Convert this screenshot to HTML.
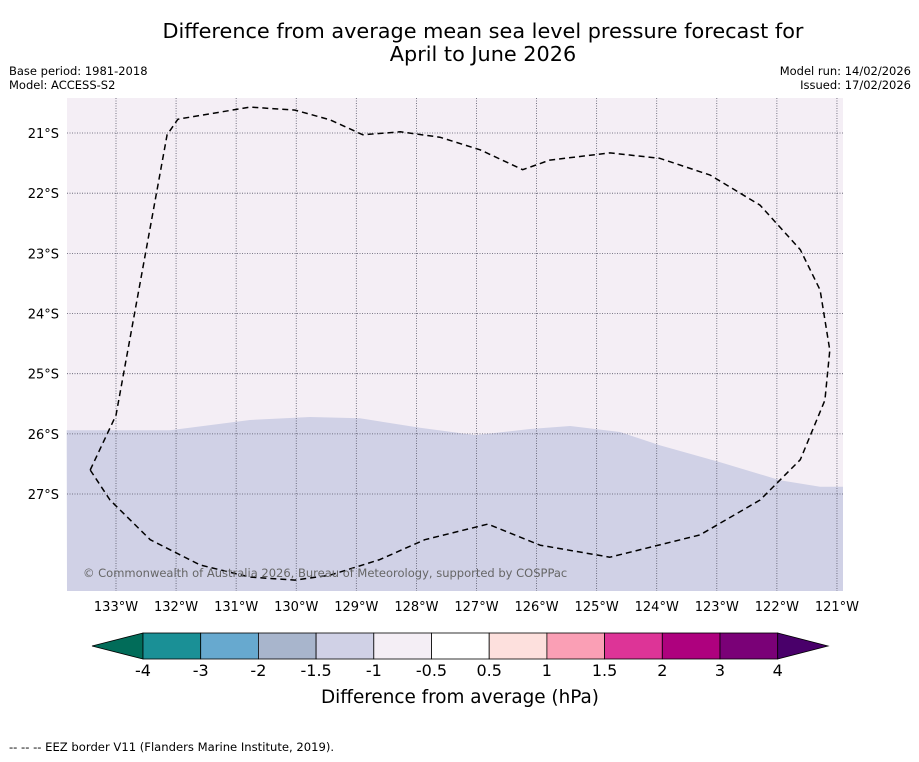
<!DOCTYPE html>
<html><head><meta charset="utf-8"><style>
body{margin:0;background:#fff;width:919px;height:758px;overflow:hidden;font-family:"DejaVu Sans","Liberation Sans",sans-serif}
</style></head><body>
<svg width="919" height="758" xmlns="http://www.w3.org/2000/svg" font-family="DejaVu Sans, Liberation Sans, sans-serif">
<text x="483" y="38" text-anchor="middle" font-size="20.8">Difference from average mean sea level pressure forecast for</text>
<text x="483" y="61" text-anchor="middle" font-size="20.8">April to June 2026</text>
<text x="9" y="75" font-size="11.5">Base period: 1981-2018</text>
<text x="9" y="89" font-size="11.5">Model: ACCESS-S2</text>
<text x="911" y="75" font-size="11.5" text-anchor="end">Model run: 14/02/2026</text>
<text x="911" y="89" font-size="11.5" text-anchor="end">Issued: 17/02/2026</text>
<g id="map"></g>
<g id="cbar"></g>
<text x="460" y="703" text-anchor="middle" font-size="18.4">Difference from average (hPa)</text>
<text x="9" y="751" font-size="11.6">--  --  -- EEZ border V11 (Flanders Marine Institute, 2019).</text>
</svg>
<script>
const lonTicks=[133,132,131,130,129,128,127,126,125,124,123,122,121];
const latTicks=[21,22,23,24,25,26,27];
const boundaryLon=[133.82,132.10,130.77,129.77,128.94,127.94,127.02,126.11,125.44,124.61,123.95,122.95,121.95,121.28,120.90];
const boundaryLat=[25.94,25.94,25.77,25.72,25.74,25.90,26.02,25.92,25.87,25.97,26.19,26.47,26.77,26.88,26.88];
const eezLon=[133.43,133.00,132.15,131.97,130.77,130.02,129.44,128.89,128.27,127.61,126.94,126.23,125.78,124.78,123.95,123.11,122.28,121.61,121.28,121.12,121.20,121.61,122.28,123.28,124.78,125.94,126.81,127.86,128.61,129.44,130.02,130.77,131.60,132.43,133.10,133.43];
const eezLat=[26.60,25.69,21.03,20.77,20.57,20.62,20.78,21.03,20.98,21.07,21.28,21.61,21.45,21.33,21.42,21.70,22.20,22.94,23.61,24.61,25.44,26.43,27.10,27.68,28.05,27.85,27.50,27.76,28.09,28.35,28.43,28.38,28.18,27.76,27.10,26.60];
const cbLevels=["-4","-3","-2","-1.5","-1","-0.5","0.5","1","1.5","2","3","4"];
const cbColors=["#1a9096","#67a9cf","#a8b5cc","#d0d1e6","#f4eef5","#ffffff","#fde0dd","#fa9fb5","#dd3497","#ae017e","#7a0177"];
const NS="http://www.w3.org/2000/svg";
const L=67,R=843,T=98,B=591;
const X=lon=>116+(133-lon)*60.08;
const Y=lat=>133+(lat-21)*60.17;
function mk(tag,attrs,parent){const e=document.createElementNS(NS,tag);for(const k in attrs)e.setAttribute(k,attrs[k]);parent.appendChild(e);return e;}
const map=document.getElementById('map');
let r=mk('rect',{x:L,y:T,width:R-L,height:B-T,fill:'#f4eef5'},map);


let d='M'+L+','+B;
boundaryLon.forEach((lo,i)=>{d+=' L'+X(lo).toFixed(1)+','+Y(boundaryLat[i]).toFixed(1);});
d+=' L'+R+','+B+' Z';
let p=mk('path',{d:d,fill:'#d0d1e6'},map);


lonTicks.forEach(lo=>{const x=X(lo);
 let g=mk('line',{x1:x,x2:x,y1:T,y2:B,stroke:'#556',"stroke-width":0.8,"stroke-dasharray":"1,1.5"},map);
 
 
 let t=mk('text',{x:x,y:611,"text-anchor":"middle","font-size":13},map);t.textContent=lo+'°W';
 
 });
latTicks.forEach(la=>{const y=Y(la);
 let g=mk('line',{x1:L,x2:R,y1:y,y2:y,stroke:'#556',"stroke-width":0.8,"stroke-dasharray":"1,1.5"},map);
 
 
 let t=mk('text',{x:59,y:y+5,"text-anchor":"end","font-size":13},map);t.textContent=la+'°S';
 
 });
let ed='';eezLon.forEach((lo,i)=>{ed+=(i?' L':'M')+X(lo).toFixed(1)+','+Y(eezLat[i]).toFixed(1);});
let e=mk('path',{d:ed,fill:'none',stroke:'#000',"stroke-width":1.5,"stroke-dasharray":"6,4","stroke-linejoin":"round"},map);


let c=mk('text',{x:83,y:577,"font-size":11.5,fill:'#666'},map);c.textContent='© Commonwealth of Australia 2026, Bureau of Meteorology, supported by COSPPac';


const cb=document.getElementById('cbar');
const cx0=143,cw=57.7,cy=633,ch=26;
let lt=mk('polygon',{points:`92,${cy+ch/2} ${cx0},${cy} ${cx0},${cy+ch}`,fill:'#016c59',stroke:'#000',"stroke-width":0.8},cb);


cbColors.forEach((col,i)=>{let s=mk('rect',{x:cx0+i*cw,y:cy,width:cw,height:ch,fill:col,stroke:'#000',"stroke-width":0.8},cb);
 
 });
const xe=cx0+cbColors.length*cw;
let rt=mk('polygon',{points:`${xe},${cy} 828,${cy+ch/2} ${xe},${cy+ch}`,fill:'#49006a',stroke:'#000',"stroke-width":0.8},cb);


cbLevels.forEach((lv,i)=>{let t=mk('text',{x:cx0+i*cw,y:676,"text-anchor":"middle","font-size":16},cb);t.textContent=lv;
 
 });
</script>
</body></html>
